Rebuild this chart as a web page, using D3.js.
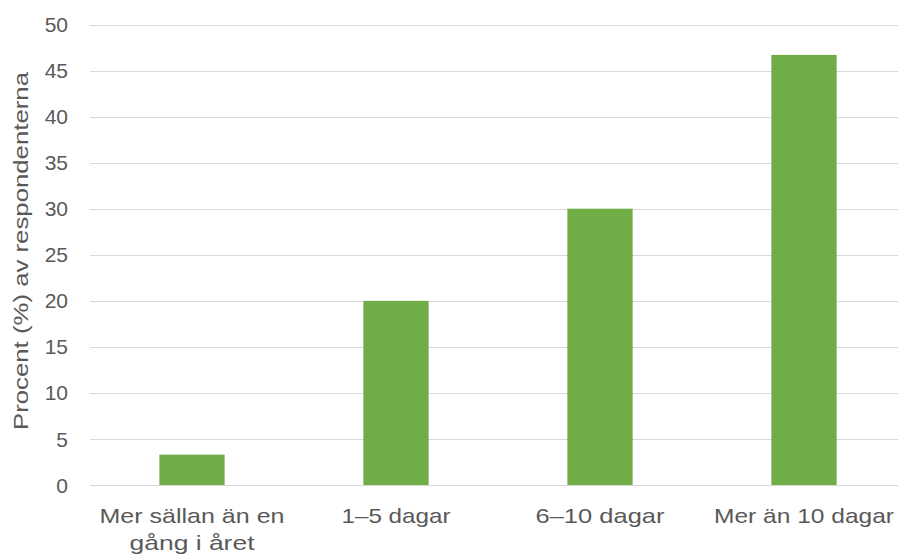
<!DOCTYPE html>
<html>
<head>
<meta charset="utf-8">
<script src="https://cdn.jsdelivr.net/npm/d3@7"></script>
<style>
  body { margin: 0; background: #fff; }
  svg text { font-family: "Liberation Sans", Arial, sans-serif; fill: #595959; }
</style>
</head>
<body>
<svg id="chart" width="898" height="556"></svg>
<script>
const categories = [["Mer sällan än en", "gång i året"], ["1–5 dagar"], ["6–10 dagar"], ["Mer än 10 dagar"]];
// approximate rendered widths of each label line in the original
const labelWidths = [[185, 125], [109], [129], [180]];
const values = [3.3, 20, 30, 46.7];
const yTicks = [0, 5, 10, 15, 20, 25, 30, 35, 40, 45, 50];
const yTitle = "Procent (%) av respondenterna";

const svg = d3.select("#chart"),
      m = {top: 24.5, right: -8, bottom: 71, left: 90},
      w = +svg.attr("width"), h = +svg.attr("height");

const keys = categories.map((c, i) => i);
const x = d3.scaleBand().domain(keys).range([m.left, w - m.right]).paddingInner(0.68).paddingOuter(0.34);
const y = d3.scaleLinear().domain([0, 50]).range([h - m.bottom, m.top]);

// gridlines
svg.append("g").selectAll("line").data(yTicks).enter().append("line")
  .attr("x1", m.left).attr("x2", w - m.right)
  .attr("y1", d => Math.round(y(d)) + 0.5).attr("y2", d => Math.round(y(d)) + 0.5)
  .attr("stroke", "#d9d9d9").attr("stroke-width", 1);

// y tick labels
svg.append("g").selectAll("text").data(yTicks).enter().append("text")
  .attr("x", 68).attr("y", d => y(d)).attr("dy", "0.36em")
  .attr("text-anchor", "end").attr("font-size", 21).text(d => d);

// bars
svg.append("g").selectAll("rect").data(values).enter().append("rect")
  .attr("x", (d, i) => x(i)).attr("width", x.bandwidth())
  .attr("y", d => y(d)).attr("height", d => y(0) - y(d))
  .attr("fill", "#70ad47");

// category labels
const lab = svg.append("g").selectAll("text").data(categories).enter().append("text")
  .attr("font-size", 21)
  .attr("y", 523);
lab.each(function(d, i) {
  const cx = x(i) + x.bandwidth() / 2;
  d.forEach((line, j) => {
    const lw = labelWidths[i][j];
    d3.select(this).append("tspan")
      .attr("x", cx - lw / 2).attr("y", 523 + j * 27)
      .attr("textLength", lw).attr("lengthAdjust", "spacingAndGlyphs")
      .text(line);
  });
});

// axis title
svg.append("text").attr("transform", "translate(28,251) rotate(-90)")
  .attr("x", -179).attr("font-size", 21)
  .attr("textLength", 358).attr("lengthAdjust", "spacingAndGlyphs")
  .text(yTitle);
</script>
</body>
</html>
